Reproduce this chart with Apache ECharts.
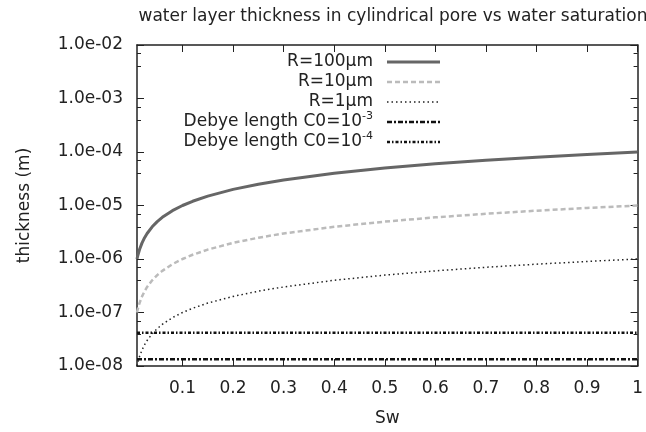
<!DOCTYPE html>
<html>
<head>
<meta charset="utf-8">
<script src="https://cdn.jsdelivr.net/npm/echarts@6/dist/echarts.min.js"></script>
<style>
  html, body { margin: 0; padding: 0; background: #fff; }
  #main { width: 646px; height: 432px; }
</style>
</head>
<body>
<div id="main"></div>
<script>
// 数据
var sw = [0.01, 0.012, 0.015, 0.02, 0.025, 0.03, 0.04, 0.05, 0.06, 0.08, 0.1, 0.12, 0.15, 0.2, 0.25, 0.3, 0.4, 0.5, 0.6, 0.7, 0.8, 0.9, 1.0];
var r100 = [1.0e-6, 1.2e-6, 1.5e-6, 2.0e-6, 2.5e-6, 3.0e-6, 4.0e-6, 5.0e-6, 6.0e-6, 8.0e-6, 1.0e-5, 1.2e-5, 1.5e-5, 2.0e-5, 2.5e-5, 3.0e-5, 4.0e-5, 5.0e-5, 6.0e-5, 7.0e-5, 8.0e-5, 9.0e-5, 1.0e-4];
var r10 = [1.0e-7, 1.2e-7, 1.5e-7, 2.0e-7, 2.5e-7, 3.0e-7, 4.0e-7, 5.0e-7, 6.0e-7, 8.0e-7, 1.0e-6, 1.2e-6, 1.5e-6, 2.0e-6, 2.5e-6, 3.0e-6, 4.0e-6, 5.0e-6, 6.0e-6, 7.0e-6, 8.0e-6, 9.0e-6, 1.0e-5];
var r1 = [1.0e-8, 1.2e-8, 1.5e-8, 2.0e-8, 2.5e-8, 3.0e-8, 4.0e-8, 5.0e-8, 6.0e-8, 8.0e-8, 1.0e-7, 1.2e-7, 1.5e-7, 2.0e-7, 2.5e-7, 3.0e-7, 4.0e-7, 5.0e-7, 6.0e-7, 7.0e-7, 8.0e-7, 9.0e-7, 1.0e-6];
var debyeX = [0.01, 1.0];
var debye3 = [1.33e-8, 1.33e-8];
var debye4 = [4.2e-8, 4.2e-8];
var xTicks = [0.1, 0.2, 0.3, 0.4, 0.5, 0.6, 0.7, 0.8, 0.9, 1];
var legendNames = ['R=100μm', 'R=10μm', 'R=1μm', 'Debye length C0=10{sup|-3}', 'Debye length C0=10{sup|-4}'];

var FONT = 'DejaVu Sans';
var INK = '#222';

// 线型
var styles = [
    { color: '#666666', width: 3, type: 'solid' },
    { color: '#bbbbbb', width: 2.5, type: [5, 3] },
    { color: '#222222', width: 1.5, type: [1.5, 3] },
    { color: '#111111', width: 2.5, type: [5, 2, 2, 2] },
    { color: '#111111', width: 2.5, type: [3, 2, 1.5, 2] }
];

function pairs(xs, ys) {
    return xs.map(function (x, i) { return [x, ys[i]]; });
}

function expLabel(v) {
    var e = Math.round(Math.log10(v));
    var s = Math.abs(e) < 10 ? '0' + Math.abs(e) : '' + Math.abs(e);
    return '1.0e' + (e < 0 ? '-' : '+') + s;
}

function mkSeries(name, data, st) {
    return {
        name: name,
        type: 'line',
        data: data,
        xAxisIndex: 0,
        yAxisIndex: 0,
        showSymbol: false,
        animation: false,
        lineStyle: { color: st.color, width: st.width, type: st.type }
    };
}

// 图例 (文字在左, 线在右)
function legendGraphic() {
    var g = [];
    var rows = [62, 82, 102, 122, 142];
    for (var i = 0; i < legendNames.length; i++) {
        g.push({
            type: 'text',
            style: {
                x: 373, y: rows[i],
                text: legendNames[i],
                align: 'right',
                verticalAlign: 'middle',
                fill: INK,
                font: '17px "' + FONT + '"',
                rich: { sup: { fontSize: 11, fontFamily: FONT, fill: INK, verticalAlign: 'top', padding: [0, 0, 12, 0] } }
            }
        });
        g.push({
            type: 'line',
            shape: { x1: 387, y1: rows[i], x2: 440, y2: rows[i] },
            style: { stroke: styles[i].color, lineWidth: styles[i].width, lineDash: styles[i].type === 'solid' ? null : styles[i].type }
        });
    }
    return g;
}

var myChart = echarts.init(document.getElementById('main'), null, { renderer: 'canvas' });
var option = {
    backgroundColor: '#fff',
    animation: false,
    title: {
        text: 'water layer thickness in cylindrical pore vs water saturation',
        left: 388,
        top: 3,
        textAlign: 'center',
        textStyle: { fontFamily: FONT, fontSize: 17, fontWeight: 'normal', color: INK }
    },
    grid: { left: 137, right: 7, top: 45, bottom: 65 },
    xAxis: [{
        type: 'value',
        min: 0.01,
        max: 1,
        name: 'Sw',
        nameLocation: 'middle',
        nameGap: 44,
        nameTextStyle: { fontFamily: FONT, fontSize: 17, color: INK },
        axisLine: { show: true, lineStyle: { color: INK, width: 1.5 } },
        axisTick: { show: true, inside: true, length: 7, customValues: xTicks, lineStyle: { color: INK } },
        axisLabel: { customValues: xTicks, margin: 14, fontFamily: FONT, fontSize: 17, color: INK },
        splitLine: { show: false }
    }, {
        type: 'value',
        position: 'top',
        min: 0.01,
        max: 1,
        axisLine: { show: true, lineStyle: { color: INK, width: 1.5 } },
        axisTick: { show: true, inside: true, length: 7, customValues: xTicks, lineStyle: { color: INK } },
        axisLabel: { show: false },
        splitLine: { show: false }
    }],
    yAxis: [{
        type: 'log',
        logBase: 10,
        min: 1e-8,
        max: 1e-2,
        name: 'thickness (m)',
        nameLocation: 'middle',
        nameGap: 104,
        nameTextStyle: { fontFamily: FONT, fontSize: 17, color: INK },
        axisLine: { show: true, lineStyle: { color: INK, width: 1.5 } },
        axisTick: { show: true, inside: true, length: 7, lineStyle: { color: INK } },
        minorTick: { show: true, splitNumber: 3, length: 4, lineStyle: { color: INK } },
        axisLabel: { margin: 14, fontFamily: FONT, fontSize: 17, color: INK, formatter: expLabel },
        splitLine: { show: false }
    }, {
        type: 'log',
        logBase: 10,
        min: 1e-8,
        max: 1e-2,
        position: 'right',
        axisLine: { show: true, lineStyle: { color: INK, width: 1.5 } },
        axisTick: { show: true, inside: true, length: 7, lineStyle: { color: INK } },
        minorTick: { show: true, splitNumber: 3, length: 4, lineStyle: { color: INK } },
        axisLabel: { show: false },
        splitLine: { show: false }
    }],
    graphic: legendGraphic(),
    series: [
        mkSeries('R=100μm', pairs(sw, r100), styles[0]),
        mkSeries('R=10μm', pairs(sw, r10), styles[1]),
        mkSeries('R=1μm', pairs(sw, r1), styles[2]),
        mkSeries('Debye length C0=10^-3', pairs(debyeX, debye3), styles[3]),
        mkSeries('Debye length C0=10^-4', pairs(debyeX, debye4), styles[4])
    ]
};
myChart.setOption(option);
</script>
</body>
</html>
